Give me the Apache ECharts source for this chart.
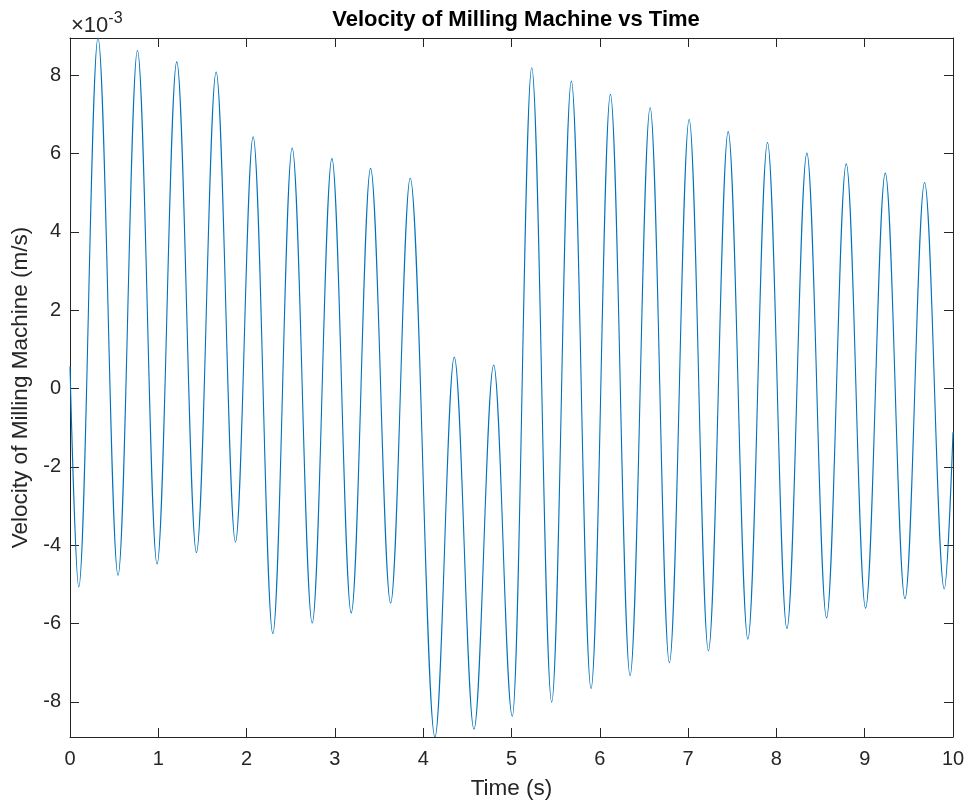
<!DOCTYPE html>
<html>
<head>
<meta charset="utf-8">
<script src="https://cdn.jsdelivr.net/npm/echarts@6/dist/echarts.min.js"></script>
<style>
html, body { margin: 0; padding: 0; background: #ffffff; }
#chart { width: 968px; height: 806px; }
</style>
</head>
<body>
<div id="chart"></div>
<script>
// Time (s) of each turning point of the trace
var timeSec = [
  0.000, 0.099, 0.317, 0.544, 0.764, 0.986, 1.209, 1.432, 1.655, 1.874,
  2.074, 2.297, 2.516, 2.743, 2.966, 3.185, 3.404, 3.631, 3.853, 4.133,
  4.352, 4.575, 4.798, 5.009, 5.229, 5.455, 5.678, 5.901, 6.120, 6.343,
  6.570, 6.788, 7.012, 7.230, 7.454, 7.677, 7.899, 8.119, 8.345, 8.568,
  8.791, 9.010, 9.233, 9.456, 9.678, 9.901, 10.000
];
// Velocity at those points, in units of 1e-3 m/s
var velocityMilli = [
  0.56, -5.07, 8.95, -4.77, 8.63, -4.48, 8.34, -4.19, 8.08, -3.92,
  6.43, -6.26, 6.14, -5.99, 5.87, -5.73, 5.62, -5.48, 5.37, -8.90,
  0.80, -8.70, 0.60, -8.37, 8.19, -8.01, 7.85, -7.66, 7.51, -7.33,
  7.17, -7.00, 6.87, -6.70, 6.56, -6.40, 6.28, -6.13, 6.01, -5.86,
  5.74, -5.61, 5.50, -5.37, 5.26, -5.12, -1.12
];
var yTickValues = [-8, -6, -4, -2, 0, 2, 4, 6, 8];
var xMin = 0, xMax = 10, xStep = 1;
var yMin = -8.90, yMax = 8.95;

var titleText = 'Velocity of Milling Machine vs Time';
var xName = 'Time (s)';
var yName = 'Velocity of Milling Machine (m/s)';

var seriesData = timeSec.map(function (t, i) { return [t, velocityMilli[i]]; });

var axisColor = '#262626';
var font = 'Arial, "Liberation Sans", Helvetica, sans-serif';

var chart = echarts.init(document.getElementById('chart'), null, { renderer: 'canvas' });

function xAx(pos, showLabel) {
  return {
    type: 'value', position: pos, min: xMin, max: xMax, interval: xStep,
    axisLine: { show: true, onZero: false, lineStyle: { color: axisColor, width: 1 } },
    axisTick: { show: true, inside: true, length: 9, lineStyle: { color: axisColor, width: 1 } },
    axisLabel: { show: showLabel, color: axisColor, fontSize: 20, fontFamily: font, margin: 12 },
    splitLine: { show: false },
    name: showLabel ? xName : '',
    nameLocation: 'middle', nameGap: 40,
    nameTextStyle: { color: axisColor, fontSize: 22.5, fontFamily: font }
  };
}
function yAx(pos, showLabel) {
  return {
    type: 'value', position: pos, min: yMin, max: yMax,
    axisLine: { show: true, onZero: false, lineStyle: { color: axisColor, width: 1 } },
    axisTick: { show: true, inside: true, length: 9, customValues: yTickValues, lineStyle: { color: axisColor, width: 1 } },
    axisLabel: { show: showLabel, color: axisColor, fontSize: 20, fontFamily: font, margin: 9, customValues: yTickValues },
    splitLine: { show: false },
    name: showLabel ? yName : '',
    nameLocation: 'middle', nameGap: 32,
    nameTextStyle: { color: axisColor, fontSize: 22.5, fontFamily: font }
  };
}

chart.setOption({
  animation: false,
  backgroundColor: '#ffffff',
  title: {
    text: titleText, left: 511, top: 4, textAlign: 'center',
    textStyle: { color: '#000000', fontSize: 22, fontWeight: 'bold', fontFamily: font }
  },
  grid: { left: 70, right: 15, top: 38, bottom: 69, containLabel: false },
  xAxis: [xAx('bottom', true), xAx('top', false)],
  yAxis: [yAx('left', true), yAx('right', false)],
  graphic: [{
    type: 'text', left: 71, top: 11,
    style: {
      text: '{a|×10}{b|-3}',
      rich: {
        a: { fontSize: 22, fontFamily: font, fill: axisColor, verticalAlign: 'bottom' },
        b: { fontSize: 16, fontFamily: font, fill: axisColor, verticalAlign: 'bottom', padding: [0, 0, 10, 0] }
      }
    }
  }],
  series: [{
    type: 'line',
    xAxisIndex: 0, yAxisIndex: 0,
    data: seriesData,
    showSymbol: false,
    smooth: 0.36,
    smoothMonotone: 'x',
    lineStyle: { color: '#0072BD', width: 1.1 },
    clip: true
  }]
});
</script>
</body>
</html>
